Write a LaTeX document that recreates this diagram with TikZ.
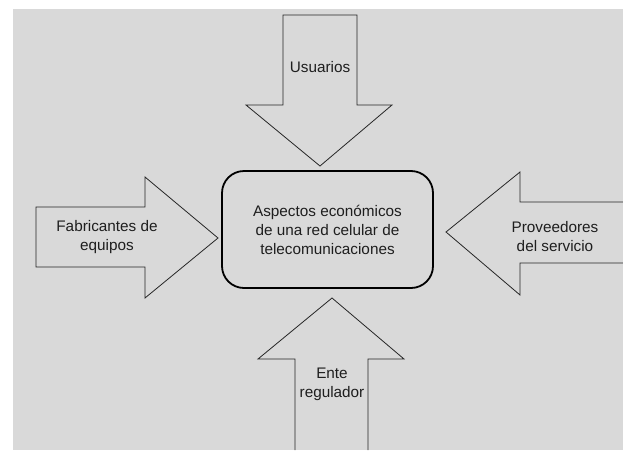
\documentclass[tikz,border=0pt]{standalone}
\usepackage{fontspec}
\setmainfont{Liberation Sans}
\definecolor{bggray}{HTML}{D9D9D9}
\definecolor{txt}{HTML}{1E1E1E}
\begin{document}
\begin{tikzpicture}[x=1pt,y=-1pt,
  blockarrow/.style={draw=black!85,line width=0.8pt,line join=miter},
  label/.style={text=txt,align=center,font=\fontsize{15.3}{19}\selectfont,inner sep=0pt},
  centerbox/.style={draw=black,line width=1.8pt,rounded corners=22pt,minimum width=211pt,minimum height=117pt,
    text=txt,align=center,font=\fontsize{15.3}{19}\selectfont,inner sep=0pt}]
\useasboundingbox (0,0) rectangle (623,450);
\fill[white] (0,0) rectangle (623,450);
\fill[bggray] (13,9) rectangle (623,450);
% central box
\node[centerbox] (box) at (327.5,229.5) {Aspectos económicos\\de una red celular de\\telecomunicaciones};
% top arrow (Usuarios)
\draw[blockarrow] (283,15) -- (357,15) -- (357,105) -- (392,105) -- (320,166) -- (246,105) -- (283,105) -- cycle;
\node[label] (usuarios) at (320,67) {Usuarios};
% left arrow (Fabricantes)
\draw[blockarrow] (36,207) -- (145,207) -- (145,177) -- (218,238) -- (145,298) -- (145,267) -- (36,267) -- cycle;
\node[label] (fabricantes) at (107,237.5) {Fabricantes de\\equipos};
% right arrow (Proveedores)
\draw[blockarrow] (623,202) -- (520,202) -- (520,172) -- (446,232) -- (520,295) -- (520,263) -- (623,263);
\node[label] (proveedores) at (555,236.5) {Proveedores\\del servicio};
% bottom arrow (Ente regulador)
\draw[blockarrow] (295,450) -- (295,359) -- (258,359) -- (332,298) -- (404,359) -- (368,359) -- (368,450);
\node[label] (ente) at (332,384) {Ente\\regulador};
\end{tikzpicture}
\end{document}
